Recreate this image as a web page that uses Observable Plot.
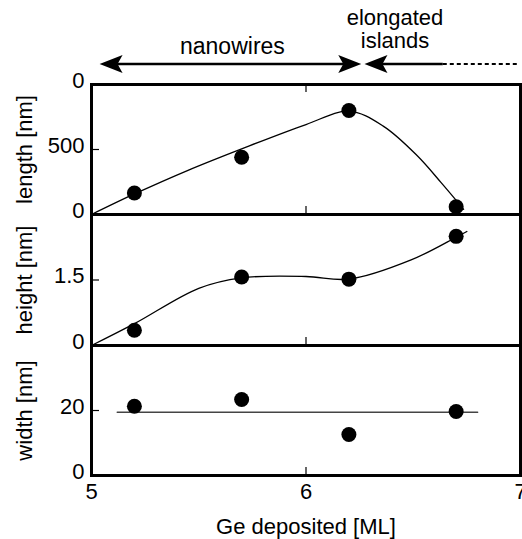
<!DOCTYPE html>
<html><head><meta charset="utf-8">
<script src="https://cdn.jsdelivr.net/npm/d3@7"></script>
<script src="https://cdn.jsdelivr.net/npm/@observablehq/plot@0.6"></script>
<style>
body{margin:0;background:#fff;}
#wrap{position:relative;width:522px;height:539px;overflow:hidden;font-family:"Liberation Sans",Arial,Helvetica,sans-serif;}
#wrap svg{position:absolute;left:0;}
</style></head><body><div id="wrap"></div>
<script>
// measured points
const xDeposited = [5.2, 5.7, 6.2, 6.7];
const lengthNm = [165, 440, 800, 60];
const heightNm = [0.35, 1.57, 1.52, 2.5];
const widthNm = [21.3, 23.4, 12.6, 19.7];
// guide curves as drawn in the figure
const lengthFitX = [5, 5.2, 5.45, 5.7, 6.0, 6.2, 6.36, 6.52, 6.63, 6.735];
const lengthFitY = [0, 158, 340, 505, 692, 795, 680, 450, 245, 40];
const heightFitX = [5, 5.2, 5.5, 5.7, 6.0, 6.2, 6.49, 6.7, 6.75];
const heightFitY = [0, 0.5, 1.31, 1.55, 1.58, 1.52, 1.96, 2.48, 2.61];
const widthFitX = [5.12, 6.8];
const widthFitY = [19.5, 19.5];
// axes
const xDomain = [5, 7];
const xTicks = [5, 6, 7];
const xTitle = "Ge deposited [ML]";
const lengthDomain = [0, 1000];
const lengthTicks = [0, 500, 1000];
const lengthTickLabels = ["0", "500", "0"];
const heightDomain = [0, 3];
const heightTicks = [0, 1.5];
const heightTickLabels = ["0", "1.5"];
const widthDomain = [0, 40];
const widthTicks = [0, 20];
const widthTickLabels = ["0", "20"];
// annotations
const nanowireLabel = "nanowires";
const islandLabel = ["elongated", "islands"];
const nanowireArrow = [5.04, 6.26];
const islandArrow = [6.275, 6.64, 6.99];

const FONT = '"Liberation Sans", Arial, Helvetica, sans-serif';
const FS = 22;
const W = 522, ML = 91, MR = 2;
const innerW = W - ML - MR;

function panel(o) {
  const data = xDeposited.map((x, i) => ({x, y: o.pts[i]}));
  const fit = o.fitX.map((x, i) => ({x, y: o.fitY[i]}));
  const innerH = o.height - o.mt - o.mb;
  const inner = o.ticks.filter(t => t > o.domain[0] && t < o.domain[1]);
  const marks = [
    Plot.line(fit, {x: "x", y: "y", curve: o.curve, stroke: o.fitStroke, strokeWidth: o.fitWidth}),
    Plot.dot(data, {x: "x", y: "y", r: 7.5, fill: "black", stroke: "none"}),
    Plot.tickY(inner, {y: d => d, insetRight: innerW - 8, stroke: "black", strokeWidth: 1.2}),
    Plot.tickX([6], {x: d => d, insetTop: innerH - 8, stroke: "black", strokeWidth: 1.2}),
    Plot.axisY(o.ticks, {tickSize: 0, tickPadding: 7, fontSize: FS, dy: -4, label: null,
      tickFormat: d => o.labels[o.ticks.indexOf(d)]}),
    Plot.text([o.title], {text: d => d, frameAnchor: "left", textAnchor: "middle", lineAnchor: "middle",
      rotate: -90, dx: -67, fontSize: FS}),
    Plot.frame({stroke: "black", strokeWidth: 3})
  ];
  if (o.topTick) marks.push(Plot.tickX([6], {x: d => d, insetBottom: innerH - 8, stroke: "black", strokeWidth: 1.2}));
  if (o.showX) {
    marks.push(Plot.axisX(xTicks, {tickSize: 0, tickPadding: 8, fontSize: FS, label: null, tickFormat: d => String(d)}));
    marks.push(Plot.text([xTitle], {text: d => d, frameAnchor: "bottom", lineAnchor: "middle", dy: 51, fontSize: FS}));
  }
  const p = Plot.plot({
    width: W, height: o.height,
    marginLeft: ML, marginRight: MR, marginTop: o.mt, marginBottom: o.mb,
    x: {domain: xDomain, axis: o.showX ? undefined : null},
    y: {domain: o.domain},
    style: {background: "transparent", fontFamily: FONT, color: "black", overflow: "visible"},
    marks
  });
  p.style.top = o.top + "px";
  p.style.position = "absolute";
  document.getElementById("wrap").appendChild(p);
  return p;
}

const p1 = panel({top: 0, mt: 84, mb: 6, height: 220, domain: lengthDomain, ticks: lengthTicks,
  labels: lengthTickLabels, pts: lengthNm, fitX: lengthFitX, fitY: lengthFitY, curve: "catmull-rom",
  fitStroke: "black", fitWidth: 1.3, title: "length [nm]", topTick: true});
const p2 = panel({top: 208, mt: 6, mb: 6, height: 143, domain: heightDomain, ticks: heightTicks,
  labels: heightTickLabels, pts: heightNm, fitX: heightFitX, fitY: heightFitY, curve: "catmull-rom",
  fitStroke: "black", fitWidth: 1.3, title: "height [nm]"});
const p3 = panel({top: 339, mt: 6, mb: 64, height: 200, domain: widthDomain, ticks: widthTicks,
  labels: widthTickLabels, pts: widthNm, fitX: widthFitX, fitY: widthFitY, curve: "linear",
  fitStroke: "#444", fitWidth: 1.5, title: "width [nm]", showX: true});

// annotations above the top panel
const sx = p1.scale("x");
const svg = d3.select(p1);
const g = svg.append("g");
const ay = 64;
function head(tx, dir) {
  const L = 23, Wd = 9, N = 5;
  return `M${tx},${ay}L${tx - dir * L},${ay - Wd}L${tx - dir * (L - N)},${ay}L${tx - dir * L},${ay + Wd}Z`;
}
const a0 = sx.apply(nanowireArrow[0]), a1 = sx.apply(nanowireArrow[1]);
g.append("line").attr("x1", a0 + 10).attr("x2", a1 - 10).attr("y1", ay).attr("y2", ay)
  .attr("stroke", "black").attr("stroke-width", 2.6);
g.append("path").attr("d", head(a0, -1)).attr("fill", "black");
g.append("path").attr("d", head(a1, 1)).attr("fill", "black");
const b0 = sx.apply(islandArrow[0]), b1 = sx.apply(islandArrow[1]), b2 = sx.apply(islandArrow[2]);
g.append("line").attr("x1", b0 + 10).attr("x2", b1).attr("y1", ay).attr("y2", ay)
  .attr("stroke", "black").attr("stroke-width", 2.6);
g.append("line").attr("x1", b1).attr("x2", b2).attr("y1", ay).attr("y2", ay)
  .attr("stroke", "black").attr("stroke-width", 2).attr("stroke-dasharray", "4,3");
g.append("path").attr("d", head(b0, -1)).attr("fill", "black");
g.append("text").attr("x", (a0 + a1) / 2 + 2).attr("y", 46).attr("dy", "0.35em")
  .attr("text-anchor", "middle").attr("font-size", 23).attr("font-family", FONT).text(nanowireLabel);
islandLabel.forEach((t, i) => {
  g.append("text").attr("x", 395).attr("y", 17 + i * 23).attr("dy", "0.35em")
    .attr("font-size", 22).attr("font-family", FONT).text(t);
});
</script></body></html>
